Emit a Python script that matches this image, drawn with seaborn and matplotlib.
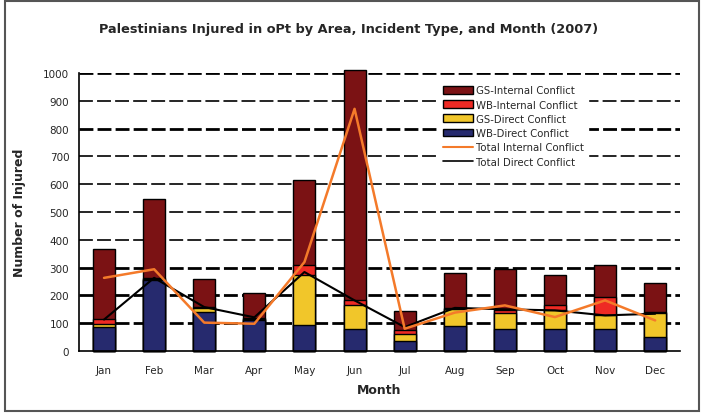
import matplotlib
matplotlib.use("Agg")
import matplotlib.pyplot as plt
import numpy as np
import pandas as pd
import seaborn as sns
from matplotlib.patches import Patch, Rectangle
from matplotlib.lines import Line2D

months = ['Jan', 'Feb', 'Mar', 'Apr', 'May', 'Jun', 'Jul', 'Aug', 'Sep', 'Oct', 'Nov', 'Dec']
wb_direct = [88, 254, 142, 110, 92, 80, 35, 90, 80, 80, 80, 50]
gs_direct = [9, 4, 14, 6, 182, 84, 27, 62, 58, 66, 48, 87]
wb_internal = [19, 3, 2, 2, 36, 21, 15, 4, 8, 18, 66, 2]
gs_internal = [252, 287, 102, 92, 304, 827, 68, 126, 148, 108, 116, 106]
total_internal = [263, 294, 102, 98, 320, 871, 80, 138, 164, 122, 182, 110]
total_direct = [113, 263, 158, 121, 284, 182, 86, 155, 150, 146, 128, 134]

series = ['WB-Direct Conflict', 'GS-Direct Conflict', 'WB-Internal Conflict', 'GS-Internal Conflict']
colors = {'WB-Direct Conflict': '#262a6e', 'GS-Direct Conflict': '#f1c62a',
          'WB-Internal Conflict': '#ee2a24', 'GS-Internal Conflict': '#7b1214'}

df = pd.DataFrame({'month': months, 'WB-Direct Conflict': wb_direct, 'GS-Direct Conflict': gs_direct,
                   'WB-Internal Conflict': wb_internal, 'GS-Internal Conflict': gs_internal})
# cumulative heights for stacking (draw tallest first)
cum = df[series].cumsum(axis=1)
cum['month'] = months

sns.set_style("white")
plt.rcParams['font.family'] = ['DejaVu Sans']
plt.rcParams['lines.scale_dashes'] = False

fig = plt.figure(figsize=(7.02, 4.14), dpi=100)
ax = fig.add_axes([0.1125, 0.1498, 0.8565, 0.6715])

for s in reversed(series):
    sns.barplot(data=cum, x='month', y=s, order=months, color=colors[s], saturation=1,
                width=0.44, edgecolor='black', linewidth=1.0, ax=ax, clip_on=False, zorder=2)

idx = np.arange(len(months))
sns.lineplot(x=idx, y=total_internal, color='#f47a2a', linewidth=1.8, ax=ax, zorder=4)
sns.lineplot(x=idx, y=total_direct, color='black', linewidth=1.5, ax=ax, zorder=3)

ax.set_xlim(-0.5, 11.5)
ax.set_ylim(0, 1000)
ax.set_yticks(range(0, 1001, 100))
ax.set_xticks(idx)
ax.set_xticklabels(months)
ax.set_xticks(np.arange(-0.5, 12, 1), minor=True)
ax.tick_params(axis='x', which='major', length=0, pad=10, labelsize=7.5)
ax.tick_params(axis='x', which='minor', length=4, width=1, direction='out', color='black')
ax.tick_params(axis='y', length=4, width=1, direction='out', color='black', labelsize=7.5, pad=3)

ax.set_axisbelow(True)
ax.yaxis.grid(True, color='black', linestyle=(0, (10, 3)))
thick = [100, 200, 300, 800, 1000]
for val, gl in zip(ax.get_yticks(), ax.get_ygridlines()):
    gl.set_linewidth(2.0 if val in thick else 1.2)
    if val == 0:
        gl.set_visible(False)
ax.xaxis.grid(False)

for side in ['top', 'right']:
    ax.spines[side].set_visible(False)
for side in ['left', 'bottom']:
    ax.spines[side].set_color('black')
    ax.spines[side].set_linewidth(1.2)

ax.set_xlabel('Month', fontsize=9, fontweight='bold', labelpad=6)
ax.set_ylabel('Number of Injured', fontsize=9, fontweight='bold', labelpad=12)

handles = [Patch(facecolor=colors[s], edgecolor='black', linewidth=1) for s in reversed(series)]
handles += [Line2D([], [], color='#f47a2a', lw=1.5), Line2D([], [], color='black', lw=1.2)]
labels = list(reversed(series)) + ['Total Internal Conflict', 'Total Direct Conflict']
leg = ax.legend(handles, labels, loc='upper left', bbox_to_anchor=(0.592, 0.985), fontsize=7.3,
                frameon=True, facecolor='white', edgecolor='white', framealpha=1,
                handlelength=3.0, handleheight=0.8, labelspacing=0.42, handletextpad=0.3,
                borderpad=0.3)
leg.set_zorder(5)

fig.text(0.496, 0.928, 'Palestinians Injured in oPt by Area, Incident Type, and Month (2007)',
         ha='center', va='center', fontsize=9.3, fontweight='bold')

fig.patches.append(Rectangle((5 / 702, 2 / 414), 694 / 702, 410 / 414, transform=fig.transFigure,
                             fill=False, edgecolor='#555555', linewidth=1.5))

fig.savefig('out.png', dpi=100)
